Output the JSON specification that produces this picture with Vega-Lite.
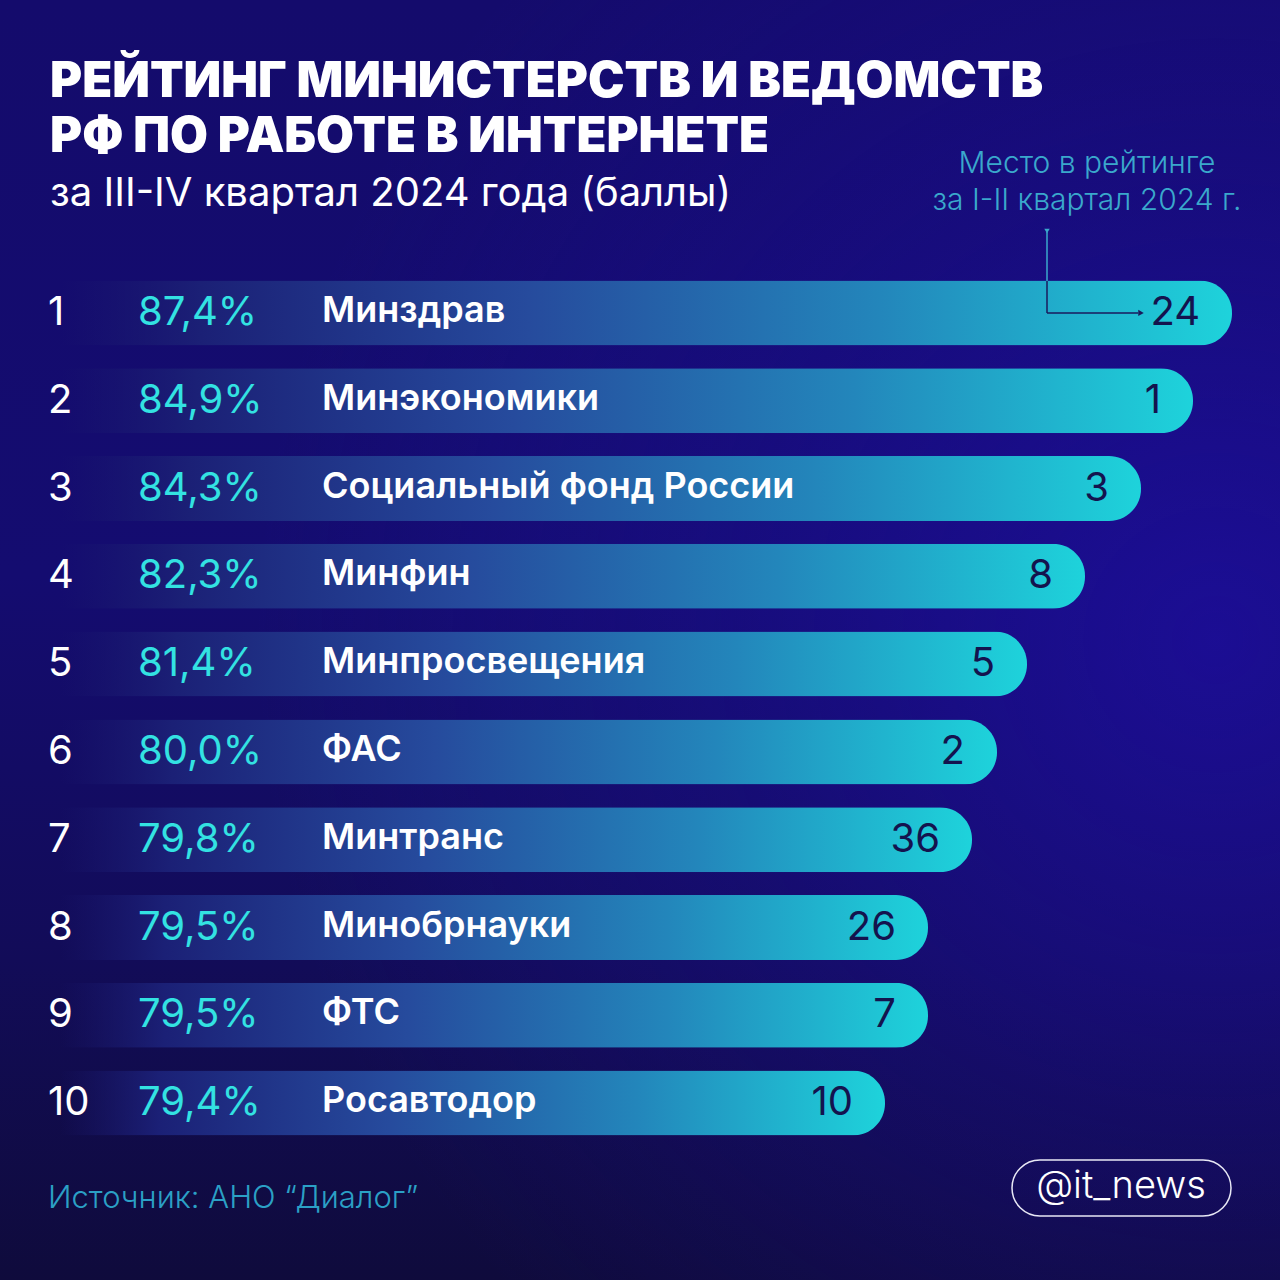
{
  "$schema": "https://vega.github.io/schema/vega-lite/v6.json",
  "width": 1280,
  "height": 1280,
  "autosize": {"type": "fit", "contains": "padding"},
  "padding": 0,
  "background": "#120b5e",
  "config": {
    "view": {
      "stroke": null,
      "fill": {
        "gradient": "linear", "x1": 0, "y1": 0, "x2": 0, "y2": 1,
        "stops": [
          {"offset": 0, "color": "#140b6c"},
          {"offset": 0.45, "color": "#140c70"},
          {"offset": 0.75, "color": "#120c58"},
          {"offset": 1, "color": "#0f0b3c"}
        ]
      }
    },
    "font": "Inter",
    "locale": {"number": {"decimal": ",", "thousands": " ", "grouping": [3], "currency": ["", "%"]}}
  },
  "title": {
    "text": ["РЕЙТИНГ МИНИСТЕРСТВ И ВЕДОМСТВ", "РФ ПО РАБОТЕ В ИНТЕРНЕТЕ"],
    "subtitle": "за III-IV квартал 2024 года (баллы)",
    "anchor": "start",
    "frame": "group",
    "orient": "top",
    "baseline": "top",
    "font": "Inter",
    "fontSize": 49,
    "fontWeight": 900,
    "color": "#ffffff",
    "lineHeight": 55,
    "subtitleFont": "Inter",
    "subtitleFontSize": 40,
    "subtitleFontWeight": 400,
    "subtitleColor": "#ffffff",
    "subtitlePadding": 12,
    "dx": 50,
    "offset": -214
  },
  "data": {
    "values": [
      {"rank": 1, "name": "Минздрав", "score": 87.4, "prev_rank": 24},
      {"rank": 2, "name": "Минэкономики", "score": 84.9, "prev_rank": 1},
      {"rank": 3, "name": "Социальный фонд России", "score": 84.3, "prev_rank": 3},
      {"rank": 4, "name": "Минфин", "score": 82.3, "prev_rank": 8},
      {"rank": 5, "name": "Минпросвещения", "score": 81.4, "prev_rank": 5},
      {"rank": 6, "name": "ФАС", "score": 80.0, "prev_rank": 2},
      {"rank": 7, "name": "Минтранс", "score": 79.8, "prev_rank": 36},
      {"rank": 8, "name": "Минобрнауки", "score": 79.5, "prev_rank": 26},
      {"rank": 9, "name": "ФТС", "score": 79.5, "prev_rank": 7},
      {"rank": 10, "name": "Росавтодор", "score": 79.4, "prev_rank": 10}
    ]
  },
  "encoding": {
    "y": {
      "field": "rank", "type": "ordinal", "axis": null,
      "scale": {"range": [269, 1147], "paddingInner": 0.26, "paddingOuter": 0.13}
    }
  },
  "layer": [
    {
      "data": {"values": [{"glow": "bg"}]},
      "mark": {
        "type": "rect",
        "fill": {
          "gradient": "radial", "x1": 0.95, "y1": 0.5, "r1": 0, "x2": 0.95, "y2": 0.5, "r2": 0.75,
          "stops": [
            {"offset": 0, "color": "rgba(30,14,160,0.75)"},
            {"offset": 0.5, "color": "rgba(30,14,160,0.3)"},
            {"offset": 1, "color": "rgba(30,14,160,0)"}
          ]
        }
      },
      "encoding": {"x": {"value": 0}, "x2": {"value": "width"}, "y": {"value": 0}, "y2": {"value": "height"}}
    },
    {
      "mark": {
        "type": "bar",
        "cornerRadiusEnd": 32,
        "color": {
          "gradient": "linear", "x1": 0, "y1": 0, "x2": 1, "y2": 0,
          "stops": [
            {"offset": 0, "color": "rgba(26,24,110,0)"},
            {"offset": 0.12, "color": "#1b2076"},
            {"offset": 0.4, "color": "#264b9d"},
            {"offset": 0.7, "color": "#2386bb"},
            {"offset": 1, "color": "#1ed3db"}
          ]
        }
      },
      "encoding": {
        "x": {
          "field": "score", "type": "quantitative", "axis": null,
          "scale": {
            "domain": [0, 79.4, 79.5, 79.8, 80.0, 81.4, 82.3, 84.3, 84.9, 87.4, 100],
            "range": [60, 885, 928, 972, 997, 1027, 1085, 1141, 1193, 1232, 1280],
            "nice": false, "zero": true
          }
        }
      }
    },
    {
      "mark": {"type": "text", "align": "left", "baseline": "middle", "fontSize": 40, "fontWeight": 400, "color": "#ffffff"},
      "encoding": {"x": {"value": 48}, "text": {"field": "rank"}}
    },
    {
      "mark": {"type": "text", "align": "left", "baseline": "middle", "fontSize": 40, "fontWeight": 400, "color": "#33e2e2", "letterSpacing": -1.5},
      "encoding": {"x": {"value": 138}, "text": {"field": "score", "type": "quantitative", "format": "$.1f"}}
    },
    {
      "mark": {"type": "text", "align": "left", "baseline": "middle", "fontSize": 36, "fontWeight": 600, "color": "#ffffff", "dy": -2},
      "encoding": {"x": {"value": 322}, "text": {"field": "name"}}
    },
    {
      "mark": {"type": "text", "align": "right", "baseline": "middle", "fontSize": 40, "fontWeight": 400, "color": "#14134e", "dx": -32},
      "encoding": {
        "x": {"field": "score", "type": "quantitative"},
        "text": {"field": "prev_rank"}
      }
    },
    {
      "transform": [{"filter": "datum.rank == 1"}],
      "mark": {"type": "rule", "color": "#1a1a5c", "strokeWidth": 1.5},
      "encoding": {"x": {"value": 1047}, "x2": {"value": 1138}}
    },
    {
      "transform": [{"filter": "datum.rank == 1"}],
      "mark": {"type": "rule", "color": "#1a1a5c", "strokeWidth": 1.5},
      "encoding": {"x": {"value": 1047}, "y2": {"value": 281}}
    },
    {
      "transform": [{"filter": "datum.rank == 1"}],
      "mark": {"type": "point", "shape": "triangle-right", "filled": true, "size": 40, "color": "#1a1a5c", "opacity": 1},
      "encoding": {"x": {"value": 1141}}
    },
    {
      "data": {"values": [{"note": "Место в рейтинге за I-II квартал 2024 г."}]},
      "layer": [
        {
          "mark": {"type": "text", "align": "center", "baseline": "middle", "fontSize": 30, "fontWeight": 300, "color": "#3aa8cc", "lineHeight": 37,
            "text": ["Место в рейтинге", "за I-II квартал 2024 г."]},
          "encoding": {"x": {"value": 1087}, "y": {"value": 164}}
        },
        {
          "mark": {"type": "rule", "color": "#3aa8cc", "strokeWidth": 1.5},
          "encoding": {"x": {"value": 1047}, "y": {"value": 232}, "y2": {"value": 281}}
        },
        {
          "mark": {"type": "point", "shape": "triangle-down", "filled": true, "size": 30, "color": "#3aa8cc", "opacity": 1},
          "encoding": {"x": {"value": 1047}, "y": {"value": 231}}
        }
      ]
    },
    {
      "data": {"values": [{"source": "Источник: АНО “Диалог”", "handle": "@it_news"}]},
      "layer": [
        {
          "mark": {"type": "text", "align": "left", "baseline": "middle", "fontSize": 31, "fontWeight": 300, "color": "#2ba0c6"},
          "encoding": {"x": {"value": 48}, "y": {"value": 1199}, "text": {"field": "source"}}
        },
        {
          "mark": {"type": "rect", "cornerRadius": 28, "filled": false, "stroke": "#e8e8f5", "strokeWidth": 1.5},
          "encoding": {"x": {"value": 1012}, "x2": {"value": 1231}, "y": {"value": 1160}, "y2": {"value": 1216}}
        },
        {
          "mark": {"type": "text", "align": "center", "baseline": "middle", "fontSize": 38, "fontWeight": 300, "color": "#ffffff"},
          "encoding": {"x": {"value": 1121}, "y": {"value": 1187}, "text": {"field": "handle"}}
        }
      ]
    }
  ]
}
